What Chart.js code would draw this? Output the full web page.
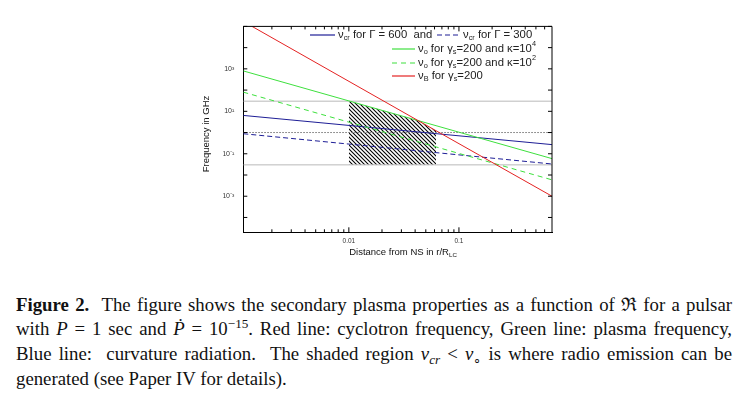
<!DOCTYPE html>
<html>
<head>
<meta charset="utf-8">
<script src="https://cdn.jsdelivr.net/npm/chart.js@4.4.1/dist/chart.umd.min.js"></script>
<style>
    body { margin: 0; background: #fff; width: 751px; height: 418px; overflow: hidden; position: relative; }
    #grafico { position: absolute; left: 0; top: 0; }
    .cap { position: absolute; left: 16px; width: 716px; font-family: "Liberation Serif", "Times New Roman", serif;
           font-size: 18.8px; line-height: 25px; color: #111; }
    .just { text-align: justify; text-align-last: justify; }
    .cap sup { font-size: 0.7em; vertical-align: baseline; position: relative; top: -0.55em; }
    .cap sub { font-size: 0.7em; vertical-align: baseline; position: relative; top: 0.3em; }
</style>
</head>
<body>
<canvas id="grafico" width="751" height="270"></canvas>

<div class="cap just" style="top:292px"><b>Figure 2.</b>&nbsp; The figure shows the secondary plasma properties as a function of ℜ for a pulsar</div>
<div class="cap just" style="top:316px">with <i>P</i> = 1 sec and <i>Ṗ</i> = 10<sup>−15</sup>. Red line: cyclotron frequency, Green line: plasma frequency,</div>
<div class="cap just" style="top:341px">Blue line:&nbsp; curvature radiation.&nbsp; The shaded region <i>ν<sub>cr</sub></i> &lt; <i>ν</i><sub>∘</sub> is where radio emission can be</div>
<div class="cap" style="top:366px">generated (see Paper IV for details).</div>

<script>
// gia tri doc tu hinh (r/R_LC, GHz)
var rEnds = [0.0011, 0.7];
var nuCr600 = [6.4, 0.27];
var nuCr300 = [0.88, 0.033];
var nuO1e4 = [800, 0.059];
var nuO1e2 = [80, 0.0059];
var nuBx = [0.00132, 0.042, 0.7];
var nuB = [1e5, 3.8, 1e-3];
var shadeX = [0.01, 0.042, 0.062];
var shadeTop = [31, 3.8, 1.2];
var refLevels = [30, 1, 0.03];
var xTickLabels = [0.01, 0.1];
var yTickLabels = [1e-3, 1e-1, 1e1, 1e3];

var xMin = 0.0011, xMax = 0.7;
var yMin = 2e-5, yMax = 1e5;

var mauDo = "#e42222";
var mauXanhLa = "#3ee03e";
var mauXanh = "#1e1e96";
var mauXam = "#b9b9b9";

function diem(xs, ys) {
    var kq = [];
    for (var i = 0; i < xs.length; i++) {
        kq.push({ x: xs[i], y: ys[i] });
    }
    return kq;
}

function duong(xs, ys, mau, dash) {
    return {
        data: diem(xs, ys),
        showLine: true,
        borderColor: mau,
        borderWidth: 1,
        borderDash: dash || [],
        pointRadius: 0,
        tension: 0,
        fill: false
    };
}

// mau gach cheo cho vung to
var pc = document.createElement("canvas");
pc.width = 4;
pc.height = 4;
var p = pc.getContext("2d");
p.strokeStyle = "#000";
p.lineWidth = 1.1;
p.beginPath();
for (var k = -1; k <= 1; k++) {
    p.moveTo(k * 4 - 1, -1);
    p.lineTo(k * 4 + 5, 5);
}
p.stroke();
var hatch = p.createPattern(pc, "repeat");

var dsCr600 = duong(rEnds, nuCr600, mauXanh);
var dsCr300 = duong(rEnds, nuCr300, mauXanh, [5, 3]);
var dsO1e4 = duong(rEnds, nuO1e4, mauXanhLa);
var dsO1e2 = duong(rEnds, nuO1e2, mauXanhLa, [5, 4]);
var dsB = duong(nuBx, nuB, mauDo);

var dsRef1 = duong([xMin, xMax], [refLevels[0], refLevels[0]], mauXam);
var dsRef2 = duong([xMin, xMax], [refLevels[1], refLevels[1]], "#707070", [1.5, 1.5]);
var dsRef3 = duong([xMin, xMax], [refLevels[2], refLevels[2]], mauXam);

var dsShade = {
    data: diem(shadeX, shadeTop),
    showLine: true,
    borderWidth: 0,
    pointRadius: 0,
    backgroundColor: hatch,
    fill: { value: refLevels[2] }
};

var chuNho = "'Liberation Sans', Arial, sans-serif";

var legendRows = [
    { y: 35, items: [
        { ds: dsCr600, x0: 310, x1: 335, runs: [["ν"], ["cr", "sub"], [" for Γ = 600  and"]] },
        { ds: dsCr300, x0: 437, x1: 460, runs: [["ν"], ["cr", "sub"], [" for Γ = 300"]] }
    ] },
    { y: 49, items: [{ ds: dsO1e4, x0: 392, x1: 415, runs: [["ν"], ["o", "sub"], [" for γ"], ["s", "sub"], ["=200 and κ=10"], ["4", "sup"]] }] },
    { y: 63, items: [{ ds: dsO1e2, x0: 392, x1: 415, runs: [["ν"], ["o", "sub"], [" for γ"], ["s", "sub"], ["=200 and κ=10"], ["2", "sup"]] }] },
    { y: 76, items: [{ ds: dsB, x0: 392, x1: 415, runs: [["ν"], ["B", "sub"], [" for γ"], ["s", "sub"], ["=200"]] }] }
];

function veChu(ctx, x, y, runs, co) {
    for (var i = 0; i < runs.length; i++) {
        var kieu = runs[i][1];
        var dy = 0;
        var s = co;
        if (kieu === "sub") { s = co * 0.65; dy = co * 0.3; }
        if (kieu === "sup") { s = co * 0.65; dy = -co * 0.4; }
        ctx.font = s + "px " + chuNho;
        ctx.fillText(runs[i][0], x, y + dy);
        x += ctx.measureText(runs[i][0]).width;
    }
    return x;
}

var khung = {
    id: "khung",
    afterDatasetsDraw: function (chart) {
        var ctx = chart.ctx;
        var a = chart.chartArea;
        var sx = chart.scales.x;
        var sy = chart.scales.y;
        ctx.save();

        // canh tren va canh phai
        ctx.strokeStyle = "#000";
        ctx.lineWidth = 1;
        ctx.beginPath();
        ctx.moveTo(a.left, a.top);
        ctx.lineTo(a.right, a.top);
        ctx.lineTo(a.right, a.bottom);
        ctx.stroke();

        // vach chia huong vao trong
        ctx.beginPath();
        for (var d = -3; d <= 0; d++) {
            for (var m = 1; m <= 9; m++) {
                var v = m * Math.pow(10, d);
                if (v < xMin || v > xMax) continue;
                var px = sx.getPixelForValue(v);
                var len = m === 1 ? 5 : 3;
                ctx.moveTo(px, a.bottom);
                ctx.lineTo(px, a.bottom - len);
                ctx.moveTo(px, a.top);
                ctx.lineTo(px, a.top + len);
            }
        }
        for (var e = -4; e <= 5; e++) {
            var py = sy.getPixelForValue(Math.pow(10, e));
            ctx.moveTo(a.left, py);
            ctx.lineTo(a.left + 4, py);
            ctx.moveTo(a.right, py);
            ctx.lineTo(a.right - 4, py);
        }
        ctx.stroke();

        // tieu de truc
        ctx.fillStyle = "#111";
        ctx.textBaseline = "middle";
        ctx.font = "9.5px " + chuNho;
        ctx.save();
        ctx.translate(206, 134);
        ctx.rotate(-Math.PI / 2);
        ctx.textAlign = "center";
        ctx.fillText("Frequency in GHz", 0, 0);
        ctx.restore();

        ctx.textAlign = "left";
        var tx = [["Distance from NS in r/R"], ["LC", "sub"]];
        ctx.font = "9.5px " + chuNho;
        var w = ctx.measureText(tx[0][0]).width;
        ctx.font = (9.5 * 0.65) + "px " + chuNho;
        w += ctx.measureText(tx[1][0]).width;
        veChu(ctx, 403 - w / 2, 252, tx, 9.5);

        // chu giai
        for (var r = 0; r < legendRows.length; r++) {
            var row = legendRows[r];
            for (var j = 0; j < row.items.length; j++) {
                var it = row.items[j];
                ctx.strokeStyle = it.ds.borderColor;
                ctx.lineWidth = 1.2;
                ctx.setLineDash(it.ds.borderDash);
                ctx.beginPath();
                ctx.moveTo(it.x0, row.y);
                ctx.lineTo(it.x1, row.y);
                ctx.stroke();
                ctx.setLineDash([]);
                ctx.fillStyle = "#222";
                veChu(ctx, it.x1 + 3, row.y, it.runs, 11.3);
            }
        }
        ctx.restore();
    }
};

var soMu = { "-": "⁻", "0": "⁰", "1": "¹", "2": "²", "3": "³", "4": "⁴", "5": "⁵" };

new Chart(document.getElementById("grafico").getContext("2d"), {
    type: "scatter",
    data: {
        datasets: [dsB, dsO1e4, dsO1e2, dsCr600, dsCr300, dsRef2, dsRef1, dsRef3, dsShade]
    },
    options: {
        responsive: false,
        animation: false,
        layout: { padding: { left: 223.3, right: 199, top: 26.4, bottom: 21.7 } },
        plugins: { legend: { display: false }, tooltip: { enabled: false } },
        scales: {
            x: {
                type: "logarithmic",
                min: xMin,
                max: xMax,
                bounds: "data",
                afterBuildTicks: function (s) {
                    s.ticks = xTickLabels.map(function (v) { return { value: v }; });
                },
                afterFit: function (s) { s.height = 16; },
                grid: { display: false, drawTicks: false },
                border: { display: true, color: "#000", width: 1 },
                ticks: {
                    autoSkip: false,
                    maxRotation: 0,
                    padding: 5,
                    color: "#333",
                    font: { size: 6.5, family: chuNho },
                    callback: function (v) { return String(v); }
                }
            },
            y: {
                type: "logarithmic",
                min: yMin,
                max: yMax,
                bounds: "data",
                afterBuildTicks: function (s) {
                    s.ticks = yTickLabels.map(function (v) { return { value: v }; });
                },
                afterFit: function (s) { s.width = 20; },
                grid: { display: false, drawTicks: false },
                border: { display: true, color: "#000", width: 1 },
                ticks: {
                    autoSkip: false,
                    padding: 9,
                    color: "#333",
                    font: { size: 7, family: chuNho },
                    callback: function (v) {
                        var e = String(Math.round(Math.log10(v)));
                        var s = "";
                        for (var i = 0; i < e.length; i++) s += soMu[e[i]];
                        return "10" + s;
                    }
                }
            }
        }
    },
    plugins: [khung]
});
</script>
</body>
</html>
